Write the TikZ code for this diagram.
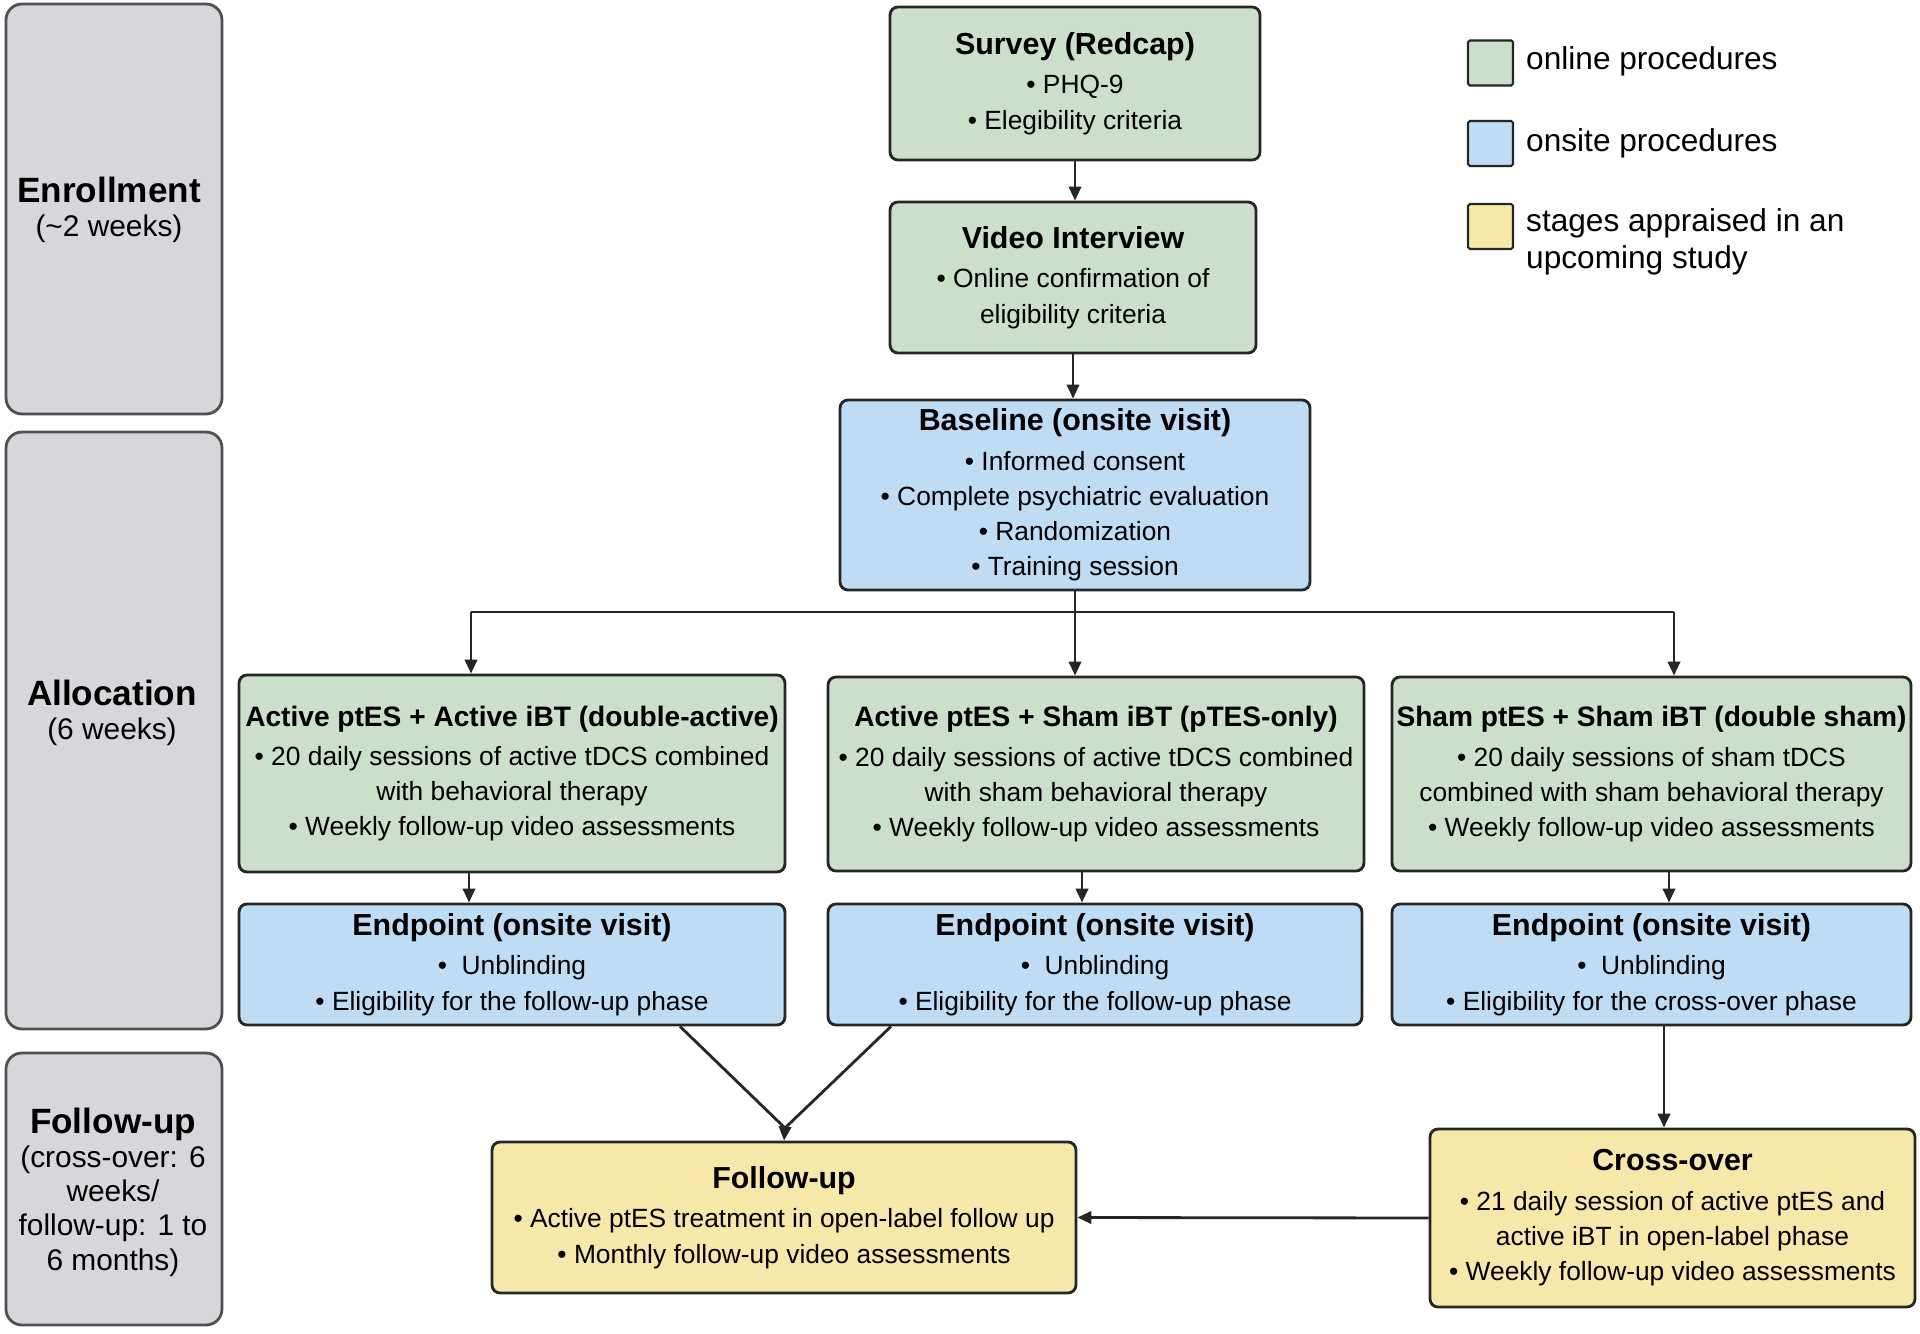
\documentclass[tikz,border=0pt]{standalone}
\usepackage{fontspec}
\setmainfont{Liberation Sans}
\usetikzlibrary{arrows.meta,positioning}

\definecolor{onlinefill}{HTML}{CBDFCA}
\definecolor{onsitefill}{HTML}{BEDDF4}
\definecolor{laterfill}{HTML}{F5E8A8}
\definecolor{phasefill}{HTML}{D6D7DA}
\definecolor{boxline}{HTML}{262626}
\definecolor{phaseline}{HTML}{505050}

\newcommand{\boxtitle}[1]{{\fontsize{17.3}{20}\selectfont\bfseries #1}}
\newcommand{\armtitle}[1]{{\fontsize{16}{20}\selectfont\bfseries #1}}
\newcommand{\phasetitle}[1]{{\fontsize{20}{24}\selectfont\bfseries #1}}

\begin{document}
\begin{tikzpicture}[x=0.02cm,y=-0.02cm,
    box/.style={draw=boxline,line width=1.6pt,rounded corners=4.5pt,align=center,
      inner sep=0pt,font=\fontsize{15}{20}\selectfont},
    online/.style={box,fill=onlinefill},
    onsite/.style={box,fill=onsitefill},
    later/.style={box,fill=laterfill},
    phase/.style={draw=phaseline,fill=phasefill,line width=1.6pt,rounded corners=9pt,
      minimum width=4.32cm},
    phasetext/.style={align=center,font=\fontsize{17}{19.5}\selectfont},
    legbox/.style={draw=boxline,line width=1.2pt,rounded corners=1pt,
      minimum width=0.9cm,minimum height=0.9cm},
    legtext/.style={anchor=west,align=left,font=\fontsize{18}{21}\selectfont},
    line/.style={draw=boxline,line width=1.6pt},
    arr/.style={line,-{Triangle[length=8pt,width=7pt]}}]

    \useasboundingbox[fill=white] (0,0) rectangle (1920,1334);

    \node[phase,minimum height=8.2cm] (enroll) at (114,209) {};
    \node[phasetext] (enrolltxt) at (109,209.5) {\phasetitle{Enrollment}\\(\textasciitilde2 weeks)};
    \node[phase,minimum height=11.94cm] (alloc) at (114,730.5) {};
    \node[phasetext] (alloctxt) at (112,713) {\phasetitle{Allocation}\\(6 weeks)};
    \node[phase,minimum height=5.44cm] (fphase) at (114,1189) {};
    \node[phasetext] (fphasetxt) at (113,1192) {\phasetitle{Follow-up}\\(cross-over: 6\\weeks/\\follow-up: 1 to\\6 months)};

    \node[online,minimum width=7.4cm,minimum height=3.06cm] (survey) at (1075,83.5)
      {\boxtitle{Survey (Redcap)}\\[2.5pt]• PHQ-9\\• Elegibility criteria};
    \node[online,minimum width=7.32cm,minimum height=3.02cm] (video) at (1073,277.5)
      {\boxtitle{Video Interview}\\[2.5pt]• Online confirmation of\\eligibility criteria};
    \node[onsite,minimum width=9.4cm,minimum height=3.8cm] (baseline) at (1075,495)
      {\boxtitle{Baseline (onsite visit)}\\[2.5pt]• Informed consent\\• Complete psychiatric evaluation\\• Randomization\\• Training session};

    \node[online,minimum width=10.92cm,minimum height=3.94cm] (act1) at (512,773.5)
      {\armtitle{Active ptES + Active iBT (double-active)}\\[2.5pt]• 20 daily sessions of active tDCS combined\\with behavioral therapy\\• Weekly follow-up video assessments};
    \node[online,minimum width=10.72cm,minimum height=3.88cm] (act2) at (1096,774)
      {\armtitle{Active ptES + Sham iBT (pTES-only)}\\[2.5pt]• 20 daily sessions of active tDCS combined\\with sham behavioral therapy\\• Weekly follow-up video assessments};
    \node[online,minimum width=10.38cm,minimum height=3.88cm] (act3) at (1651.5,774)
      {\armtitle{Sham ptES + Sham iBT (double sham)}\\[2.5pt]• 20 daily sessions of sham tDCS\\combined with sham behavioral therapy\\• Weekly follow-up video assessments};

    \node[onsite,minimum width=10.92cm,minimum height=2.42cm] (end1) at (512,964.5)
      {\boxtitle{Endpoint (onsite visit)}\\[2.5pt]• \ Unblinding\\• Eligibility for the follow-up phase};
    \node[onsite,minimum width=10.68cm,minimum height=2.42cm] (end2) at (1095,964.5)
      {\boxtitle{Endpoint (onsite visit)}\\[2.5pt]• \ Unblinding\\• Eligibility for the follow-up phase};
    \node[onsite,minimum width=10.38cm,minimum height=2.42cm] (end3) at (1651.5,964.5)
      {\boxtitle{Endpoint (onsite visit)}\\[2.5pt]• \ Unblinding\\• Eligibility for the cross-over phase};

    \node[later,minimum width=11.68cm,minimum height=3.02cm] (follow) at (784,1217.5)
      {\boxtitle{Follow-up}\\[2.5pt]• Active ptES treatment in open-label follow up\\• Monthly follow-up video assessments};
    \node[later,minimum width=9.7cm,minimum height=3.56cm] (cross) at (1672.5,1218)
      {\boxtitle{Cross-over}\\[2.5pt]• 21 daily session of active ptES and\\active iBT in open-label phase\\• Weekly follow-up video assessments};

    \node[legbox,fill=onlinefill] (legonline) at (1490.5,63) {};
    \node[legtext] (legonlinetxt) at (1520,61) {online procedures};
    \node[legbox,fill=onsitefill] (legonsite) at (1490.5,143.5) {};
    \node[legtext] (legonsitetxt) at (1520,143) {onsite procedures};
    \node[legbox,fill=laterfill] (leglater) at (1490.5,226.5) {};
    \node[legtext] (leglatertxt) at (1520,242) {stages appraised in an\\upcoming study};

    \coordinate (split) at (1075,612);
    \coordinate (splitl) at (471,612);
    \coordinate (splitr) at (1674,612);
    \coordinate (merge) at (785,1128);

    \draw[arr] (survey.south) -- (survey.south |- video.north);
    \draw[arr] (video.south) -- (video.south |- baseline.north);
    \draw[line] (baseline.south) -- (split);
    \draw[line] (splitl) -- (splitr);
    \draw[arr] (splitl) -- (splitl |- act1.north);
    \draw[arr] (split) -- (split |- act2.north);
    \draw[arr] (splitr) -- (splitr |- act3.north);

    \draw[arr] ([xshift=-0.86cm]act1.south) -- ([xshift=-0.86cm]act1.south |- end1.north);
    \draw[arr] ([xshift=-0.28cm]act2.south) -- ([xshift=-0.28cm]act2.south |- end2.north);
    \draw[arr] ([xshift=0.35cm]act3.south) -- ([xshift=0.35cm]act3.south |- end3.north);

    \draw[line] ([xshift=3.36cm]end1.south) -- (merge);
    \draw[line] ([xshift=-4.08cm]end2.south) -- (merge);
    \draw[arr] (merge) -- (follow.north);
    \draw[arr] ([xshift=0.25cm]end3.south) -- ([xshift=0.25cm]end3.south |- cross.north);
    \draw[arr] (cross.west) -- (follow.east);
\end{tikzpicture}
\end{document}
